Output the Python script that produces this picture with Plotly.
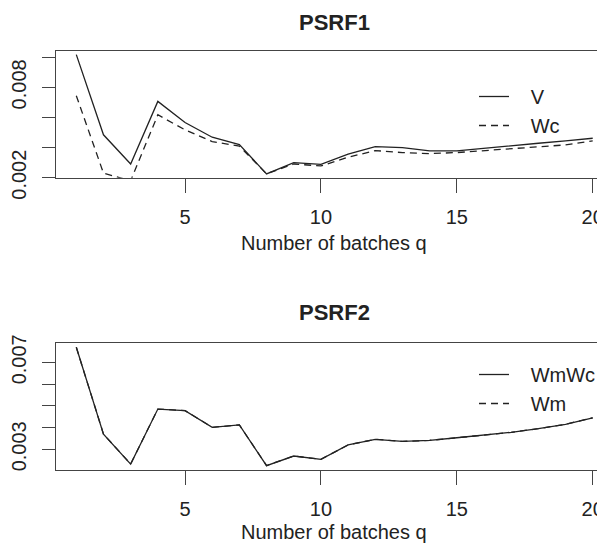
import plotly.graph_objects as go
from plotly.subplots import make_subplots

q = list(range(1, 21))
V = [0.01018, 0.00485, 0.00291, 0.00707, 0.00567, 0.00469, 0.00420, 0.00225, 0.00300, 0.00289,
     0.00356, 0.00407, 0.00400, 0.00378, 0.00378, 0.00396, 0.00411, 0.00429, 0.00445, 0.00462]
Wc = [0.00745, 0.00230, 0.00180, 0.00618, 0.00518, 0.00440, 0.00410, 0.00226, 0.00291, 0.00278,
      0.00336, 0.00380, 0.00367, 0.00360, 0.00367, 0.00380, 0.00391, 0.00407, 0.00418, 0.00445]
WmWc = [0.00769, 0.00370, 0.00232, 0.00485, 0.00478, 0.00401, 0.00412, 0.00225, 0.00269, 0.00254,
        0.00320, 0.00346, 0.00336, 0.00341, 0.00353, 0.00366, 0.00378, 0.00395, 0.00415, 0.00445]
Wm = [0.00769, 0.00370, 0.00232, 0.00485, 0.00478, 0.00401, 0.00412, 0.00225, 0.00269, 0.00254,
      0.00320, 0.00346, 0.00336, 0.00341, 0.00353, 0.00366, 0.00378, 0.00395, 0.00415, 0.00445]

x_ticks = [5, 10, 15, 20]
y1_ticks = [0.002, 0.004, 0.006, 0.008, 0.010]
y1_text = ["0.002", "", "", "0.008", ""]
y2_ticks = [0.003, 0.004, 0.005, 0.006, 0.007]
y2_text = ["0.003", "", "", "", "0.007"]

# The page body has an 8px default margin; size the figure so it fills the window.
OFF = 8
VW, VH = 605, 547
W, H = VW - OFF, VH - OFF
FONT = "Liberation Sans, Arial, Helvetica, sans-serif"
INK = "#222222"
AX = "#444444"
LEFT = 56  # window x of the plot's left edge


def py(px):
    # window y pixel -> paper fraction
    return (VH - px) / H


def pxx(px):
    # window x pixel -> paper fraction
    return (px - LEFT) / (VW - LEFT)


fig = make_subplots(rows=2, cols=1)
line_solid = dict(color=INK, width=1.3)
line_dash = dict(color=INK, width=1.3, dash="7px,5px")
PAD = "\u00a0\u00a0\u00a0"

fig.add_trace(go.Scatter(x=q, y=V, mode="lines", name=PAD + "V", line=line_solid, legend="legend"), row=1, col=1)
fig.add_trace(go.Scatter(x=q, y=Wc, mode="lines", name=PAD + "Wc", line=line_dash, legend="legend"), row=1, col=1)
fig.add_trace(go.Scatter(x=q, y=Wm, mode="lines", name=PAD + "Wm", line=line_dash, legend="legend2", legendrank=2), row=2, col=1)
fig.add_trace(go.Scatter(x=q, y=WmWc, mode="lines", name=PAD + "WmWc", line=line_solid, legend="legend2", legendrank=1), row=2, col=1)

xcommon = dict(range=[0.253, 20.452], tickvals=x_ticks, ticks="outside", ticklen=14, tickwidth=1.2,
               tickcolor=AX, showline=True, mirror=True, linecolor=AX, linewidth=1.3,
               showgrid=False, zeroline=False, tickfont=dict(size=20, color=INK, family=FONT),
               ticklabelstandoff=7, automargin=False)
ycommon = dict(ticks="outside", ticklen=13, tickwidth=1.2, tickcolor=AX, showline=True, mirror=False,
               linecolor=AX, linewidth=1.3, showgrid=False, zeroline=False, tickangle=-90,
               tickfont=dict(size=20, color=INK, family=FONT), ticklabelstandoff=8, automargin=False)

fig.update_xaxes(**xcommon)
fig.update_yaxes(**ycommon)
fig.update_layout(
    xaxis=dict(domain=[0, 1]),
    xaxis2=dict(domain=[0, 1]),
    yaxis=dict(domain=[py(177.7), py(51)], range=[0.002, 0.010419], tickvals=y1_ticks, ticktext=y1_text),
    yaxis2=dict(domain=[py(470.3), py(343.3)], range=[0.002034, 0.007874], tickvals=y2_ticks, ticktext=y2_text),
)

leg = dict(bgcolor="rgba(0,0,0,0)", borderwidth=0, font=dict(size=20, color=INK, family=FONT),
           xanchor="left", yanchor="top", tracegroupgap=0, itemwidth=30)
fig.update_layout(
    legend=dict(x=pxx(474), y=py(77), **leg),
    legend2=dict(x=pxx(474), y=py(355), **leg),
)

ann = []
ann.append(dict(text="<b>PSRF1</b>", x=pxx(334), y=py(22), xref="paper", yref="paper",
                showarrow=False, font=dict(size=22, color=INK, family=FONT), xanchor="center", yanchor="middle"))
ann.append(dict(text="<b>PSRF2</b>", x=pxx(334), y=py(312), xref="paper", yref="paper",
                showarrow=False, font=dict(size=22, color=INK, family=FONT), xanchor="center", yanchor="middle"))
ann.append(dict(text="Number of batches q", x=pxx(334), y=py(243), xref="paper", yref="paper",
                showarrow=False, font=dict(size=20, color=INK, family=FONT), xanchor="center", yanchor="middle"))
ann.append(dict(text="Number of batches q", x=pxx(334), y=py(532), xref="paper", yref="paper",
                showarrow=False, font=dict(size=20, color=INK, family=FONT), xanchor="center", yanchor="middle"))

fig.update_layout(
    annotations=ann,
    width=W, height=H,
    margin=dict(l=LEFT - OFF, r=0, t=0, b=0, autoexpand=False),
    paper_bgcolor="white", plot_bgcolor="white",
    showlegend=True,
    font=dict(family=FONT, color=INK),
)

fig.write_html("out.html")
